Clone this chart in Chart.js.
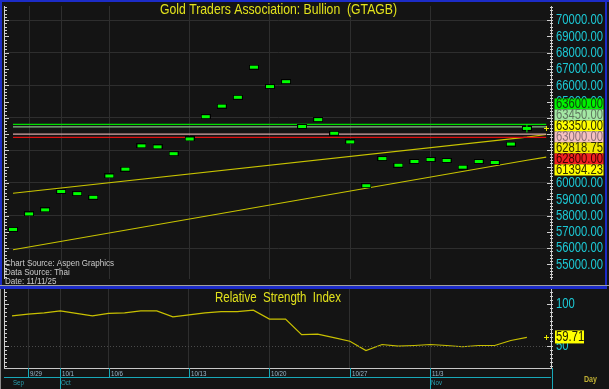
<!DOCTYPE html>
<html><head><meta charset="utf-8">
<script src="https://cdn.jsdelivr.net/npm/chart.js@4.4.1/dist/chart.umd.min.js"></script>
<style>
html,body{margin:0;padding:0;background:#141414;width:609px;height:389px;overflow:hidden}
#c1{position:absolute;left:0;top:0}
#c2{position:absolute;left:0;top:285px}
</style></head><body>
<canvas id="c1" width="609" height="285"></canvas>
<canvas id="c2" width="609" height="104"></canvas>
<script>
// ---------- DATA ----------
const dates = ['9/26','9/29','9/30','10/1','10/2','10/3','10/6','10/7','10/8','10/9','10/10',
  '10/13','10/14','10/15','10/16','10/17','10/20','10/21','10/22','10/23','10/24',
  '10/27','10/28','10/29','10/30','10/31','11/3','11/4','11/5','11/6','11/7','11/10','11/11'];
const closes = [57150,58100,58350,59480,59350,59120,60430,60850,62280,62220,61800,
  62700,64070,64720,65260,67110,65920,66220,63470,63890,63050,
  62520,59830,61500,61090,61320,61440,61380,60970,61320,61260,62390,63350];
const rsiValues = [85.7,87.7,89.3,91.7,88.7,85.7,88.7,89.3,91.7,91.7,84.5,
  86.9,89.3,90.8,90.8,92.5,81.8,81.8,63.1,63.7,59.5,
  55.1,44.0,51.2,49.2,50,51.2,50,48.5,50,50,56,59.71];
const levelValues = [63600, 63450, 63000, 62800];
const lastPrice = 63350;
const trendUpperX = [0, 32, 33.2];
const trendUpperY = [59370, 62818.75, 62975];
const trendLowerX = [0, 32, 33.2];
const trendLowerY = [55900, 61394.23, 61590];
const markerValues = [63600, 63450, 63350, 63000, 62818.75, 62800, 61394.23];
const priceTicks = [55000,56000,57000,58000,59000,60000,61000,62000,63000,64000,65000,66000,67000,68000,69000,70000];
const rsiTicks = [50, 100];
const lastRsi = 59.71;
const gridDates = ['9/29','10/1','10/6','10/13','10/20','10/27','11/3'];
const months = ['Sep','Oct','Nov'];
const monthStarts = ['9/26','10/1','11/3'];

// ---------- STYLE ----------
const FAM = '"Liberation Sans", Arial, sans-serif';
const BG = '#141414';
const GRID = '#2e2e2e';
const CYAN = '#1cc8d4';
const BLUE = '#1c2cc8';
const levelColors = ['#00e000', '#88c088', '#d8a8a8', '#e01010'];
const markerStyles = [
  {bg:'#00f000', fg:'#104010'}, {bg:'#a4e8a4', fg:'#607860'}, {bg:'#ffff00', fg:'#303000'},
  {bg:'#f4c0c0', fg:'#8a7078'}, {bg:'#f2ea00', fg:'#303000'}, {bg:'#f02020', fg:'#400000'},
  {bg:'#ffff00', fg:'#303000'}];
const gridIdx = gridDates.map(d => dates.indexOf(d));

function measure(ctx, s, size, weight) {
  ctx.save(); ctx.font = (weight||'') + ' ' + size + 'px ' + FAM;
  const w = ctx.measureText(s).width; ctx.restore(); return w;
}
function txt(ctx, s, x, y, size, color, sx, align, weight) {
  ctx.save(); ctx.font = (weight||'') + ' ' + size + 'px ' + FAM;
  ctx.fillStyle = color; ctx.textBaseline = 'middle'; ctx.textAlign = align || 'left';
  ctx.translate(x, y); ctx.scale(sx, 1); ctx.fillText(s, 0, 0); ctx.restore();
}
function plus(ctx, x, y, color) {
  ctx.fillStyle = color;
  ctx.fillRect(Math.round(x) - 2, Math.round(y), 5, 1);
  ctx.fillRect(Math.round(x), Math.round(y) - 2, 1, 5);
}

const bgPlugin = { id:'bg', beforeDraw(c){ const ctx=c.ctx; ctx.save(); ctx.fillStyle=BG; ctx.fillRect(0,0,c.width,c.height); ctx.restore(); } };

const barImg = document.createElement('canvas');
barImg.width = 10; barImg.height = 5;
(function(){ const b = barImg.getContext('2d'); b.fillStyle='#000'; b.fillRect(0,0,10,5); b.fillStyle='#00ff00'; b.fillRect(1,1,8,3); })();

const xScaleCfg = {
  type:'linear', min:-0.435, max:33.5,
  ticks:{display:false}, grid:{color:GRID, drawTicks:false}, border:{display:false},
  afterBuildTicks: s => { s.ticks = gridIdx.map(v => ({value:v})); },
  afterFit: s => { s.height = 0; }
};

// ---------- MAIN PANEL ----------
const mainOverlay = { id:'mainOverlay', afterDraw(chart){
  const ctx = chart.ctx, a = chart.chartArea, y = chart.scales.y;
  ctx.save();
  ctx.fillStyle = '#d0d0d0';
  ctx.fillRect(4, a.top, 1, a.bottom - a.top);
  for (let v = 54200; v <= 70800; v += 200) {
    const py = Math.round(y.getPixelForValue(v));
    ctx.fillRect(5, py, v % 1000 === 0 ? 4 : 2, 1);
    ctx.fillRect(a.right - (v % 1000 === 0 ? 4 : 1), py, v % 1000 === 0 ? 6 : 3, 1);
  }
  const sx = 47 / measure(ctx, '70000.00', 14);
  priceTicks.forEach(v => txt(ctx, v.toFixed(2), a.right + 5, y.getPixelForValue(v) + 0.5, 14, CYAN, sx));
  const h = 11;
  let groups = markerValues.map((v, i) => ({m:[i], sum:y.getPixelForValue(v)}));
  groups.forEach(g => g.top = g.sum - h/2);
  let changed = true;
  while (changed) {
    changed = false;
    for (let i = 1; i < groups.length; i++) {
      const g0 = groups[i-1], g1 = groups[i];
      if (g0.top + g0.m.length * h > g1.top) {
        g0.m = g0.m.concat(g1.m); g0.sum += g1.sum;
        g0.top = g0.sum / g0.m.length - g0.m.length * h / 2;
        groups.splice(i, 1); changed = true; break;
      }
    }
  }
  groups.forEach(g => g.m.forEach((idx, k) => {
    const top = g.top + 1.5 + k * h, st = markerStyles[idx];
    ctx.fillStyle = st.bg; ctx.fillRect(554.5, top, 49, h);
    txt(ctx, markerValues[idx].toFixed(2), 556, top + h/2 + 0.5, 14, st.fg, sx);
  }));
  plus(ctx, 546, y.getPixelForValue(lastPrice), '#e8e800');
  const tt = 'Gold Traders Association: Bullion  (GTAGB)';
  txt(ctx, tt, 278.5, 10, 15, '#e2e21c', 237 / measure(ctx, tt, 15), 'center');
  const s1 = 'Chart Source: Aspen Graphics';
  const ssx = 109 / measure(ctx, s1, 9.5);
  txt(ctx, s1, 5, 263.5, 9.5, '#cccccc', ssx);
  txt(ctx, 'Data Source: Thai', 5, 272.5, 9.5, '#cccccc', ssx);
  txt(ctx, 'Date: 11/11/25', 5, 281.5, 9.5, '#cccccc', ssx);
  ctx.fillStyle = BLUE;
  ctx.fillRect(0, 0, 609, 2);
  ctx.fillRect(0, 0, 2, 285);
  ctx.fillRect(605, 0, 2, 285);
  ctx.restore();
}};

new Chart(document.getElementById('c1'), {
  type:'scatter',
  data:{ datasets:[
    { data:[{x:closes.length-1, y:lastPrice}], pointStyle:'cross', pointRadius:4, pointBorderColor:'#00ff00', pointBorderWidth:1, borderColor:'#00ff00' },
    { data:closes.map((v,i)=>({x:i,y:v})), pointStyle:barImg, pointRadius:5 },
    ...levelValues.map((v,i)=>({ data:[{x:0,y:v},{x:33.2,y:v}], showLine:true, borderColor:levelColors[i], borderWidth:1.2, pointRadius:0 })),
    { data:trendUpperX.map((x,i)=>({x, y:trendUpperY[i]})), showLine:true, borderColor:'#c8c400', borderWidth:1.2, pointRadius:0 },
    { data:trendLowerX.map((x,i)=>({x, y:trendLowerY[i]})), showLine:true, borderColor:'#c8c400', borderWidth:1.2, pointRadius:0 }
  ]},
  options:{
    responsive:false, animation:false, devicePixelRatio:1, events:[],
    layout:{padding:{left:5,right:0,top:3,bottom:1}},
    plugins:{legend:{display:false}, tooltip:{enabled:false}},
    scales:{
      x: xScaleCfg,
      y:{ position:'right', min:54105, max:70865,
          ticks:{display:false},
          grid:{ color: c => (c.tick && c.tick.value % 2000 === 0) ? GRID : 'rgba(0,0,0,0)', drawTicks:false },
          border:{display:true, color:'#c8c8c8'},
          afterBuildTicks: s => { s.ticks = priceTicks.map(v => ({value:v})); },
          afterFit: s => { s.width = 58; } }
    }
  },
  plugins:[bgPlugin, mainOverlay]
});

// ---------- RSI PANEL ----------
const rsiOverlay = { id:'rsiOverlay', afterDraw(chart){
  const ctx = chart.ctx, a = chart.chartArea, y = chart.scales.y, x = chart.scales.x;
  ctx.save();
  ctx.fillStyle = '#a0a0a0'; ctx.fillRect(0, 0, 609, 1);
  ctx.fillStyle = BLUE; ctx.fillRect(0, 1, 607, 3);
  ctx.fillStyle = '#8a8a8a'; ctx.fillRect(0, 4, 1, 100);
  const p50 = Math.round(y.getPixelForValue(50));
  ctx.fillStyle = '#4a4a4a';
  for (let px = a.left; px < a.right; px += 3) ctx.fillRect(px, p50, 1, 1);
  ctx.fillStyle = '#d0d0d0';
  ctx.fillRect(4, a.top, 1, a.bottom - a.top);
  ctx.fillRect(a.right, a.top, 1, a.bottom - a.top);
  for (let v = 25; v <= 115; v += 5) {
    const py = Math.round(y.getPixelForValue(v));
    ctx.fillRect(5, py, v % 50 === 0 ? 4 : 2, 1);
    ctx.fillRect(a.right - (v % 50 === 0 ? 4 : 1), py, v % 50 === 0 ? 6 : 3, 1);
  }
  const sx = 47 / measure(ctx, '70000.00', 14);
  rsiTicks.forEach(v => txt(ctx, String(v), a.right + 5, y.getPixelForValue(v) + 0.5, 14, CYAN, sx));
  const pl = y.getPixelForValue(lastRsi);
  ctx.fillStyle = '#ffff00'; ctx.fillRect(555, pl - 7, 29, 13);
  txt(ctx, lastRsi.toFixed(2), 556, pl, 14, '#202000', sx);
  plus(ctx, 546, pl, '#e8e800');
  const rt = 'Relative  Strength  Index';
  txt(ctx, rt, 278, 13, 14, '#e2e21c', 126 / measure(ctx, rt, 14), 'center');
  ctx.fillStyle = '#c8c8c8'; ctx.fillRect(4, a.bottom, a.right - 3, 1);
  ctx.fillStyle = '#18a8b8'; ctx.fillRect(4, 92, a.right - 4, 1);
  ctx.fillRect(a.right + 1, a.bottom, 1, 21);
  const dsx = 12 / measure(ctx, '9/29', 8);
  gridDates.forEach(d => {
    const px = Math.round(x.getPixelForValue(dates.indexOf(d)));
    ctx.fillStyle = '#18a8b8'; ctx.fillRect(px, a.bottom, 1, 10);
    txt(ctx, d, px + 2, 88.5, 8, '#9ab8cc', dsx);
  });
  months.forEach((m, i) => {
    const px = Math.round(x.getPixelForValue(dates.indexOf(monthStarts[i])));
    if (i > 0) { ctx.fillStyle = '#18a8b8'; ctx.fillRect(px, a.bottom, 1, 21); }
    txt(ctx, m, px + 1, 98, 8, '#2aa0b0', dsx);
  });
  txt(ctx, 'Day', 590.5, 94.5, 9, '#c0b034', 13 / measure(ctx, 'Day', 9, 'bold'), 'center', 'bold');
  ctx.restore();
}};

new Chart(document.getElementById('c2'), {
  type:'scatter',
  data:{ datasets:[
    { data:rsiValues.map((v,i)=>({x:i,y:v})), showLine:true, borderColor:'#c8c000', borderWidth:1.2, pointRadius:0 }
  ]},
  options:{
    responsive:false, animation:false, devicePixelRatio:1, events:[],
    layout:{padding:{left:5,right:0,top:4,bottom:21}},
    plugins:{legend:{display:false}, tooltip:{enabled:false}},
    scales:{
      x: xScaleCfg,
      y:{ position:'right', min:22.9, max:118.07,
          ticks:{display:false}, grid:{display:false}, border:{display:false},
          afterBuildTicks: s => { s.ticks = rsiTicks.map(v => ({value:v})); },
          afterFit: s => { s.width = 58; } }
    }
  },
  plugins:[bgPlugin, rsiOverlay]
});
</script>
</body></html>
